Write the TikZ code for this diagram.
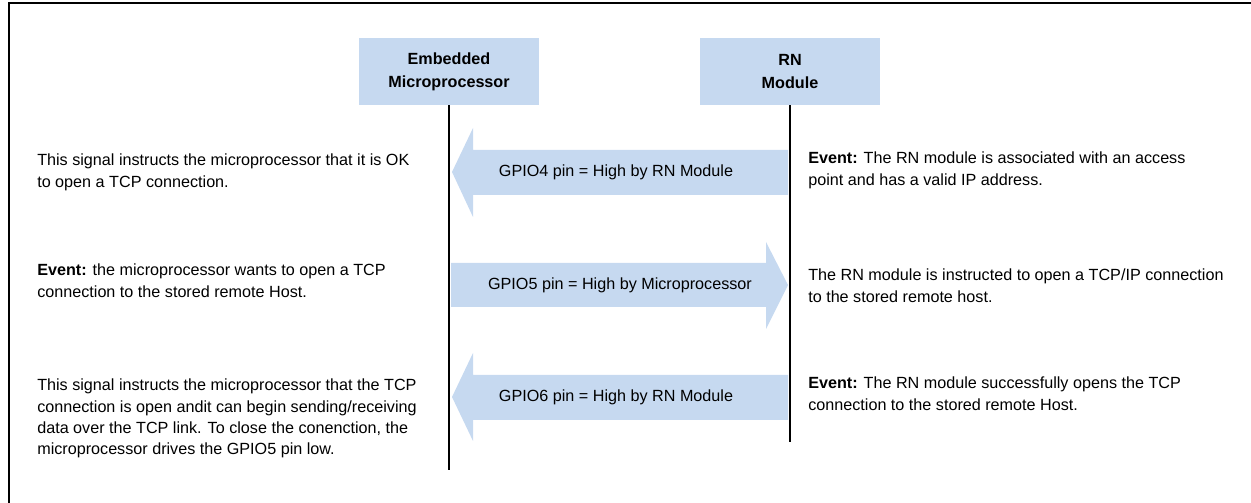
\documentclass[tikz,border=0pt]{standalone}
\usepackage{fontspec}
\setmainfont{Liberation Sans}
\usetikzlibrary{positioning}
\definecolor{sigblue}{RGB}{198,217,240}
\tikzset{
  hdr/.style={fill=sigblue, minimum width=4.5cm, minimum height=1.675cm, align=center, inner sep=0pt,
    font=\fontsize{11.5}{16.3}\selectfont\bfseries},
  note/.style={anchor=north west, align=left, inner sep=0pt, font=\fontsize{11.5}{15.1}\selectfont},
  siglabel/.style={inner sep=0pt, font=\fontsize{11.5}{14}\selectfont},
  lifeline/.style={line width=1.4pt},
}
\begin{document}
\begin{tikzpicture}[x=0.025cm, y=-0.025cm]
    \useasboundingbox (0,0) rectangle (1251,503);
    % frame
    \draw[line width=2.1pt] (9,503) -- (9,3) -- (1251,3);

    % heads and lifelines
    \node[hdr] (mcu) at (449,71.5) {Embedded\\Microprocessor};
    \node[hdr] (rn) at (790,71.5) {RN\\Module};
    \draw[lifeline] (mcu.south) -- ++(0,365) coordinate (mcuend);
    \draw[lifeline] (rn.south) -- ++(0,337) coordinate (rnend);

    % GPIO4
    \fill[sigblue] (788,150) -- (473,150) -- (473,128) -- (452,172) -- (473,217) -- (473,195) -- (788,195) -- cycle;
    \node[siglabel] (gpio4) at (616,172) {GPIO4 pin = High by RN Module};
    % GPIO5
    \fill[sigblue] (451,263) -- (766,263) -- (766,242) -- (788,285) -- (766,329) -- (766,307) -- (451,307) -- cycle;
    \node[siglabel] (gpio5) at (620,285) {GPIO5 pin = High by Microprocessor};
    % GPIO6
    \fill[sigblue] (788,375) -- (473,375) -- (473,353) -- (452,397) -- (473,441) -- (473,420) -- (788,420) -- cycle;
    \node[siglabel] (gpio6) at (616,397) {GPIO6 pin = High by RN Module};

    % left notes
    \node[note] (okopen) at (37,154) {This signal instructs the microprocessor that it is OK\\to open a TCP connection.};
    \node[note] (wantopen) at (37,264) {\textbf{Event:} the microprocessor wants to open a TCP\\connection to the stored remote Host.};
    \node[note] (isopen) at (37,379) {This signal instructs the microprocessor that the TCP\\connection is open andit can begin sending/receiving\\data over the TCP link. To close the conenction, the\\microprocessor drives the GPIO5 pin low.};

    % right notes
    \node[note] (assoc) at (808,152) {\textbf{Event:} The RN module is associated with an access\\point and has a valid IP address.};
    \node[note] (instr) at (808,269) {The RN module is instructed to open a TCP/IP connection\\to the stored remote host.};
    \node[note] (opened) at (808,377) {\textbf{Event:} The RN module successfully opens the TCP\\connection to the stored remote Host.};
\end{tikzpicture}
\end{document}
